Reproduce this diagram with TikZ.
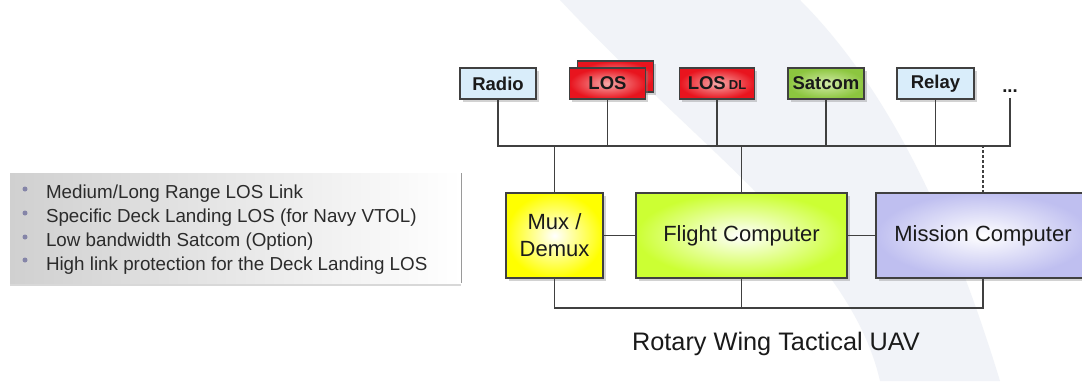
\documentclass[tikz,border=0pt]{standalone}
\usepackage{fontspec}
\setmainfont{Liberation Sans}
\usetikzlibrary{shadows}

\definecolor{c404040}{RGB}{64,64,64}
\definecolor{c1a1a1a}{RGB}{26,26,26}
\definecolor{c2b2b2b}{RGB}{43,43,43}
\definecolor{cd9edfa}{RGB}{217,237,250}
\definecolor{ce8141e}{RGB}{232,20,30}
\definecolor{cf7a8a8}{RGB}{247,168,168}
\definecolor{c8cc63f}{RGB}{140,198,63}
\definecolor{cd2eaa8}{RGB}{210,234,168}
\definecolor{cffff00}{RGB}{255,255,0}
\definecolor{cccff33}{RGB}{204,255,51}
\definecolor{cbfbff0}{RGB}{191,191,240}
\definecolor{c8585a8}{RGB}{133,133,168}
\definecolor{cd0d0d0}{RGB}{208,208,208}
\definecolor{c9a9a9a}{RGB}{154,154,154}
\definecolor{cf1f3f8}{RGB}{241,243,248}

\tikzset{
  link/.style={draw=c404040, line width=1.3pt},
  unit/.style={draw=c404040, line width=1.2pt, minimum width=76pt, minimum height=31pt,
    drop shadow={shadow xshift=2.5pt, shadow yshift=-2.5pt, opacity=0.35},
    text=c1a1a1a, font=\bfseries\fontsize{18.5}{22}\selectfont},
  block/.style={draw=c404040, line width=1.2pt, minimum height=85pt, align=center,
    drop shadow={shadow xshift=3pt, shadow yshift=-3pt, opacity=0.35},
    text=c1a1a1a, font=\fontsize{22}{27}\selectfont},
  item/.style={anchor=base west, text=c2b2b2b, font=\fontsize{18.8}{22}\selectfont},
  bluefill/.style={fill=cd9edfa},
  redfill/.style={inner color=cf7a8a8, outer color=ce8141e},
  greenfill/.style={inner color=cd2eaa8, outer color=c8cc63f}
}

\begin{document}
\begin{tikzpicture}[x=1pt, y=-1pt, inner sep=0pt, outer sep=0pt]
  \fill[white] (0,0) rectangle (1082,381);
  \useasboundingbox (0,0) rectangle (1082,381);

  % faint backdrop swoosh
  \fill[cf1f3f8] (560,0) .. controls (700,150) and (850,250) .. (880,381) -- (1000,381) .. controls (960,250) and (900,100) .. (800,0) -- cycle;


  % link units
  \node[unit, bluefill] (radio) at (498,83.5) {Radio};

  \node[unit, redfill] (losback) at (615.5,76.5) {};

  \node[unit, redfill] (los) at (607.5,83.5) {LOS};

  \node[unit, redfill, minimum width=75pt] (losdl) at (717,83.5) {LOS\,{\fontsize{13}{15}\selectfont DL}};

  \node[unit, greenfill] (satcom) at (826,83.5) {Satcom};

  \node[unit, bluefill, minimum width=77pt] (relay) at (935.5,83.5) {Relay};

  \node[anchor=base, text=c1a1a1a, font=\bfseries\fontsize{18.5}{22}\selectfont] (dots) at (1010,92) {...};

  \coordinate (dotsfoot) at (1010,98);

  \coordinate (busL) at (498,146);

  \coordinate (busR) at (1010,146);

  \coordinate (busB) at (553,308);


  % onboard blocks
  \node[block, inner color=white, outer color=cffff00, minimum width=97pt] (mux) at (554.5,235.5) {Mux /\\Demux};

  \node[block, inner color=white, outer color=cccff33, minimum width=211pt] (flight) at (741.5,235.5) {Flight Computer};

  \node[block, inner color=white, outer color=cbfbff0, minimum width=214pt] (mission) at (983,235.5) {Mission Computer};


  % upper bus
  \draw[link] (radio.south) -- (radio.south |- busL) -- (busR) -- (dotsfoot);

  \draw[link] (los.south) -- (los.south |- busL);

  \draw[link] (losdl.south) -- (losdl.south |- busL);

  \draw[link] (satcom.south) -- (satcom.south |- busL);

  \draw[link] (relay.south) -- (relay.south |- busL);

  \draw[link] (mux.north) -- (mux.north |- busL);

  \draw[link] (flight.north) -- (flight.north |- busL);

  \draw[link, dash pattern=on 3pt off 2pt] (mission.north) -- (mission.north |- busL);


  % onboard links
  \draw[link] (mux.east) -- (flight.west);

  \draw[link] (flight.east) -- (mission.west);

  \draw[link] (mux.south) -- (mux.south |- busB) -| (mission.south);

  \draw[link] (flight.south) -- (flight.south |- busB);


  \node[anchor=base, text=c1a1a1a, font=\fontsize{25.3}{30}\selectfont] (title) at (776,350) {Rotary Wing Tactical UAV};


  % feature list
  \node[left color=cd0d0d0, right color=white, minimum width=451pt, minimum height=110pt,
    drop shadow={shadow xshift=0pt, shadow yshift=-3pt, opacity=0.3}] (notes) at (235.5,228) {};

  \draw[draw=c9a9a9a, line width=1pt] (notes.north east) -- (notes.south east);

  \node[item] (item1) at (46,198) {Medium/Long Range LOS Link};
  \fill[c8585a8] (25,189) circle (2.5pt);

  \node[item] (item2) at (46,222) {Specific Deck Landing LOS (for Navy VTOL)};
  \fill[c8585a8] (25,213) circle (2.5pt);

  \node[item] (item3) at (46,246) {Low bandwidth Satcom (Option)};
  \fill[c8585a8] (25,237) circle (2.5pt);

  \node[item] (item4) at (46,270) {High link protection for the Deck Landing LOS};
  \fill[c8585a8] (25,260) circle (2.5pt);

\end{tikzpicture}
\end{document}
